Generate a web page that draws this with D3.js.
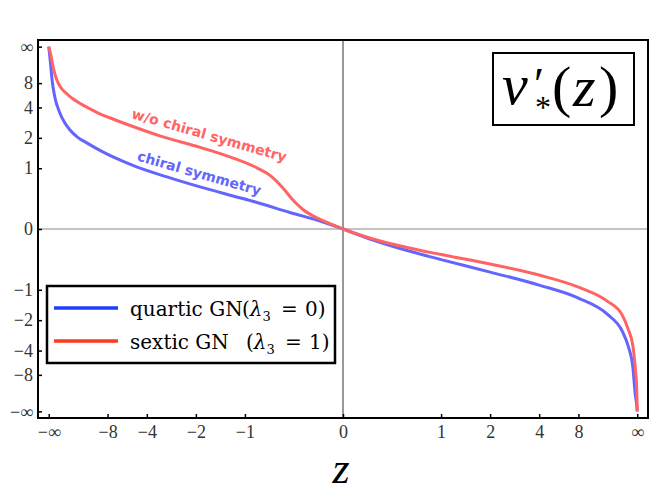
<!DOCTYPE html>
<html>
<head>
<meta charset="utf-8">
<script src="https://cdn.jsdelivr.net/npm/d3@7"></script>
<style>
  body { margin: 0; background: #fff; }
  svg { display: block; }
</style>
</head>
<body>
<svg id="chart" width="664" height="498"></svg>
<script>
const zQuartic = [-Infinity, -344, -176, -96, -51.5, -34.8, -26, -18.3, -13.5, -8.89, -6.28, -5.0, -2.98, -1.89, -1.196, -0.827, -0.44, -0.146, 0,
                  0.227, 0.557, 1, 2, 4, 8, 17.6, 37.2, 63, 135, 292, 1175, Infinity];
const vQuartic = [Infinity, 20.75, 9.03, 5.28, 3.52, 2.79, 2.39, 2.02, 1.79, 1.467, 1.221, 1.072, 0.80, 0.60, 0.443, 0.341, 0.199, 0.08, 0,
                  -0.129, -0.268, -0.403, -0.619, -0.889, -1.221, -1.753, -2.55, -3.60, -6.46, -19.4, -58.6, -Infinity];

const zSextic = [-Infinity, -292, -166, -115.6, -71.5, -49.1, -30.7, -22.5, -17, -12.3, -9.53, -7.64, -5.54, -3.3, -1.89, -1.25, -0.827, -0.637, -0.513, -0.41, -0.315, -0.194, -0.0925, 0,
                 0.227, 0.557, 1, 2, 4, 8, 17.6, 37.2, 63, 135, 292, 1175, Infinity];
const vSextic = [Infinity, 43.5, 20.75, 13.8, 9.03, 7.10, 5.75, 5.0, 4.44, 3.87, 3.43, 3.13, 2.70, 2.09, 1.622, 1.31, 1.008, 0.80, 0.58, 0.379, 0.24, 0.129, 0.062, 0,
                 -0.116, -0.226, -0.326, -0.476, -0.676, -0.936, -1.309, -1.79, -2.44, -3.60, -6.46, -15.3, -Infinity];

const xTicks = [-Infinity, -8, -4, -2, -1, 0, 1, 2, 4, 8, Infinity];
const xTickLabels = ['−∞', '−8', '−4', '−2', '−1', '0', '1', '2', '4', '8', '∞'];
const yTicks = [Infinity, 8, 4, 2, 1, 0, -1, -2, -4, -8, -Infinity];
const yTickLabels = ['∞', '8', '4', '2', '1', '0', '−1', '−2', '−4', '−8', '−∞'];

const blueCurve = '#6464ff';
const redCurve = '#ff6464';
const blueKey = '#1e3cff';
const redKey = '#ff3a1e';
const serif = '"Liberation Serif", "DejaVu Serif", serif';

// compactified axis: z -> z/(|z|+2), infinity lands on +-1
const comp = z => isFinite(z) ? z / (Math.abs(z) + 2) : Math.sign(z);

const svg = d3.select('#chart');
const pLeft = 38, pRight = 648, pTop = 40, pBottom = 418;
const pad = 1.0365;

const xT = d3.scaleLinear().domain([-pad, pad]).range([pLeft, pRight]);
const yT = d3.scaleLinear().domain([-pad, pad]).range([pBottom, pTop]);
const x = z => xT(comp(z));
const y = v => yT(comp(v));

// zero lines
svg.append('line')
    .attr('x1', pLeft).attr('x2', pRight)
    .attr('y1', y(0)).attr('y2', y(0))
    .attr('stroke', '#888').attr('stroke-width', 1);
svg.append('line')
    .attr('x1', x(0)).attr('x2', x(0))
    .attr('y1', pTop).attr('y2', pBottom)
    .attr('stroke', '#333').attr('stroke-width', 1);

// curves
const line = d3.line()
    .x(d => x(d[0]))
    .y(d => y(d[1]))
    .curve(d3.curveMonotoneX);

const series = [
    { z: zQuartic, v: vQuartic, color: blueCurve },
    { z: zSextic, v: vSextic, color: redCurve }
];
series.forEach(s => {
    svg.append('path')
        .attr('d', line(s.z.map((z, i) => [z, s.v[i]])))
        .attr('fill', 'none')
        .attr('stroke', s.color)
        .attr('stroke-width', 3)
        .attr('stroke-linejoin', 'round');
});

// axes
const xAxis = d3.axisBottom(xT)
    .tickValues(xTicks.map(comp))
    .tickFormat((d, i) => xTickLabels[i])
    .tickSizeInner(-4)
    .tickSizeOuter(0)
    .tickPadding(7);
const gx = svg.append('g').attr('transform', `translate(0,${pBottom})`).call(xAxis);

const yAxis = d3.axisLeft(yT)
    .tickValues(yTicks.map(comp))
    .tickFormat((d, i) => yTickLabels[i])
    .tickSizeInner(-4)
    .tickSizeOuter(0)
    .tickPadding(5);
const gy = svg.append('g').attr('transform', `translate(${pLeft},0)`).call(yAxis);

[gx, gy].forEach(g => {
    g.attr('font-family', serif).attr('font-size', 18);
    g.select('.domain').remove();
    g.selectAll('.tick line').attr('stroke', '#000').attr('stroke-width', 1.5);
    g.selectAll('.tick text').attr('fill', '#333');
});

// frame
svg.append('rect')
    .attr('x', pLeft).attr('y', pTop)
    .attr('width', pRight - pLeft).attr('height', pBottom - pTop)
    .attr('fill', 'none')
    .attr('stroke', '#000')
    .attr('stroke-width', 2);

// axis label
svg.append('text')
    .attr('x', x(0) - 2).attr('y', 483)
    .attr('text-anchor', 'middle')
    .style('font-family', serif)
    .style('font-style', 'italic')
    .style('font-size', '44px')
    .text('z');

// curve labels
svg.append('text')
    .attr('transform', 'translate(208,140) rotate(16)')
    .attr('text-anchor', 'middle')
    .attr('fill', redCurve)
    .style('font-family', '"DejaVu Sans", sans-serif')
    .style('font-weight', 'bold')
    .style('font-size', '14px')
    .text('w/o chiral symmetry');

svg.append('text')
    .attr('transform', 'translate(198,178) rotate(16)')
    .attr('text-anchor', 'middle')
    .attr('fill', blueCurve)
    .style('font-family', '"DejaVu Sans", sans-serif')
    .style('font-weight', 'bold')
    .style('font-size', '14px')
    .text('chiral symmetry');

// title box
svg.append('rect')
    .attr('x', 493).attr('y', 53)
    .attr('width', 141).attr('height', 72)
    .attr('fill', '#fff')
    .attr('stroke', '#000')
    .attr('stroke-width', 2);
const title = svg.append('text')
    .style('font-family', serif)
    .style('font-size', '58px');
title.append('tspan').attr('x', 502).attr('y', 104).style('font-style', 'italic').text('v');
title.append('tspan').attr('x', 534).attr('y', 100).style('font-size', '46px').text('′');
title.append('tspan').attr('x', 535).attr('y', 118).style('font-size', '32px').text('*');
title.append('tspan').attr('x', 552).attr('y', 106).text('(');
title.append('tspan').attr('x', 573).attr('y', 106).style('font-style', 'italic').text('z');
title.append('tspan').attr('x', 599).attr('y', 106).text(')');

// legend
svg.append('rect')
    .attr('x', 47).attr('y', 286)
    .attr('width', 288).attr('height', 77)
    .attr('fill', '#fff')
    .attr('stroke', '#000')
    .attr('stroke-width', 2.5);

const legendItems = [
    { color: blueKey, name: 'quartic GN', val: '0', shift: 0 },
    { color: redKey, name: 'sextic GN', val: '1', shift: 4 }
];
legendItems.forEach((d, i) => {
    const ly = 308 + i * 33;
    svg.append('line')
        .attr('x1', 54).attr('x2', 118)
        .attr('y1', ly).attr('y2', ly)
        .attr('stroke', d.color)
        .attr('stroke-width', 3.3);
    const t = svg.append('text')
        .attr('x', 130).attr('y', ly + 8)
        .style('font-family', '"DejaVu Serif", serif')
        .style('font-size', '20px')
        .attr('fill', '#000');
    t.append('tspan').text(d.name);
    t.append('tspan').attr('x', 242 + d.shift).text('(');
    t.append('tspan').style('font-style', 'italic').text('λ');
    t.append('tspan').attr('dy', 5).style('font-size', '13px').text('3');
    t.append('tspan').attr('x', 281 + d.shift).attr('dy', -5).text('=');
    t.append('tspan').attr('x', 305 + d.shift).text(d.val);
    t.append('tspan').text(')');
});
</script>
</body>
</html>
